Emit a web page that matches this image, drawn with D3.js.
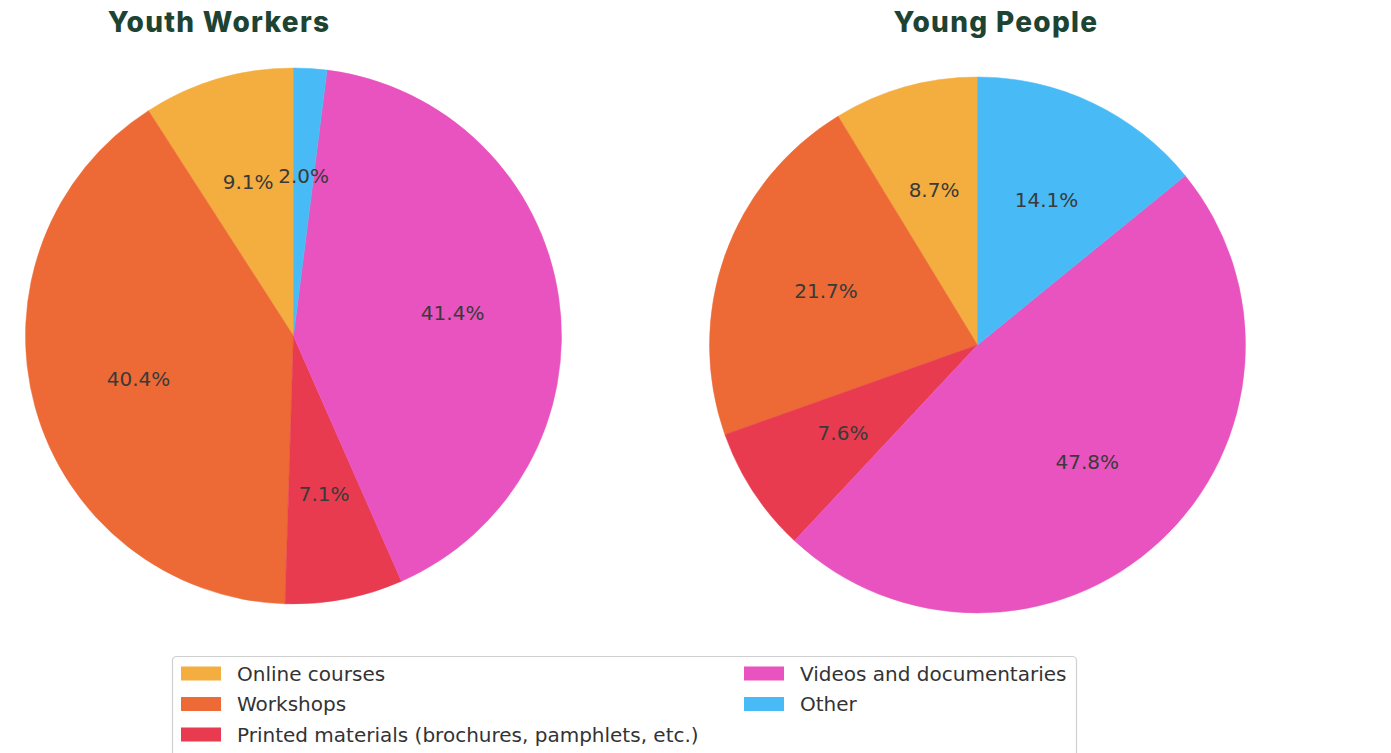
<!DOCTYPE html>
<html>
<head>
<meta charset="utf-8">
<script src="https://cdn.jsdelivr.net/npm/d3@7"></script>
<style>
  html, body { margin: 0; padding: 0; background: #ffffff; }
  svg { display: block; }
</style>
</head>
<body>
<svg id="chart" width="1391" height="753"></svg>
<script>
// Categories and shares (%) for each respondent group
const categories = [
  "Online courses",
  "Workshops",
  "Printed materials (brochures, pamphlets, etc.)",
  "Videos and documentaries",
  "Other"
];
const youthWorkers = [9.1, 40.4, 7.1, 41.4, 2.0];
const youngPeople = [8.7, 21.7, 7.6, 47.8, 14.1];
const panelTitles = ["Youth Workers", "Young People"];
const sliceColors = ["#f4ae3f", "#ed6a36", "#e83b4f", "#e953bf", "#48bbf6"];

const svg = d3.select("#chart");
const color = d3.scaleOrdinal().domain(categories).range(sliceColors);

const panels = [
  { title: panelTitles[0], values: youthWorkers, cx: 293.5, cy: 336, r: 268, tx: 219 },
  { title: panelTitles[1], values: youngPeople, cx: 977.5, cy: 345, r: 268, tx: 996 }
];

// Slices run counter-clockwise from twelve o'clock, in category order
const pie = d3.pie().sort(null).startAngle(0).endAngle(-2 * Math.PI);

panels.forEach(p => {
  const data = categories.map((c, i) => ({ cat: c, value: p.values[i] }));
  const arcs = pie.value(d => d.value)(data);
  const arc = d3.arc().innerRadius(0).outerRadius(p.r);
  const labelArc = d3.arc().innerRadius(p.r * 0.6).outerRadius(p.r * 0.6);

  const g = svg.append("g").attr("transform", `translate(${p.cx},${p.cy})`);
  g.selectAll("path.slice")
    .data(arcs)
    .join("path")
    .attr("class", "slice")
    .attr("d", arc)
    .attr("fill", d => color(d.data.cat))
    .attr("stroke", d => color(d.data.cat))
    .attr("stroke-width", 0.5);

  g.selectAll("text.pct")
    .data(arcs)
    .join("text")
    .attr("class", "pct")
    .attr("transform", d => `translate(${labelArc.centroid(d)})`)
    .attr("text-anchor", "middle")
    .attr("dominant-baseline", "central")
    .attr("font-family", "DejaVu Sans, sans-serif")
    .attr("font-size", 20)
    .attr("fill", "#3a3a3a")
    .text(d => d.data.value.toFixed(1) + "%");

  svg.append("text")
    .attr("x", p.tx)
    .attr("y", 32)
    .attr("text-anchor", "middle")
    .attr("font-family", "Inter, Lato, sans-serif")
    .attr("font-weight", 800)
    .attr("font-size", 28)
    .attr("letter-spacing", 1.3)
    .attr("fill", "#1d4333")
    .text(p.title);
});

// Legend: two columns inside a rounded frame
const legend = svg.append("g").attr("transform", "translate(172.5,656.5)");
legend.append("rect")
  .attr("width", 904)
  .attr("height", 110)
  .attr("rx", 4)
  .attr("fill", "#ffffff")
  .attr("stroke", "#d0d0d0")
  .attr("stroke-width", 1.2);

const colX = [8.5, 571.5];
const rowY = [17, 47.5, 78];
categories.forEach((c, i) => {
  const col = i < 3 ? 0 : 1;
  const row = i < 3 ? i : i - 3;
  const item = legend.append("g")
    .attr("transform", `translate(${colX[col]},${rowY[row]})`);
  item.append("rect")
    .attr("x", 0).attr("y", -7)
    .attr("width", 40).attr("height", 14)
    .attr("fill", color(c));
  item.append("text")
    .attr("x", 56)
    .attr("y", 0)
    .attr("dominant-baseline", "central")
    .attr("font-family", "DejaVu Sans, sans-serif")
    .attr("font-size", 20)
    .attr("fill", "#333333")
    .text(c);
});
</script>
</body>
</html>
